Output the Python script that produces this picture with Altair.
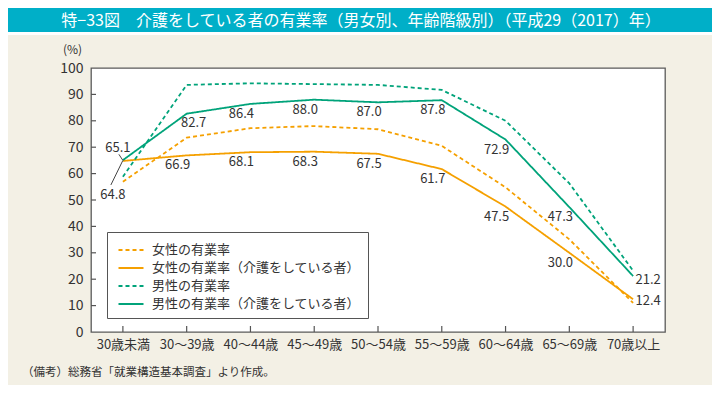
import altair as alt
import pandas as pd

FONT = "Noto Sans CJK JP"

categories = ["30歳未満", "30～39歳", "40～44歳", "45～49歳", "50～54歳",
              "55～59歳", "60～64歳", "65～69歳", "70歳以上"]

series_names = ["女性の有業率", "女性の有業率（介護をしている者）",
                "男性の有業率", "男性の有業率（介護をしている者）"]

female_all = [56.9, 73.6, 77.2, 78.0, 76.8, 70.5, 54.8, 35.1, 11.0]
female_care = [64.8, 66.9, 68.1, 68.3, 67.5, 61.7, 47.5, 30.0, 12.4]
male_all = [58.8, 93.6, 94.2, 93.9, 93.6, 91.7, 80.0, 56.3, 23.2]
male_care = [65.1, 82.7, 86.4, 88.0, 87.0, 87.8, 72.9, 47.3, 21.2]

y_ticks = [0, 10, 20, 30, 40, 50, 60, 70, 80, 90, 100]

# label offsets (pixels) for the value labels
male_care_dx = [-5, 7, -9, -9, -9, -9, -9, -9, 15]
male_care_dy = [-12, 9, 10, 10, 10, 10, 10, 10, 4]
female_care_dx = [-10, -9, -9, -9, -9, -9, -9, -9, 15]
female_care_dy = [34, 10, 10, 10, 10, 10, 10, 10, 2]

title_text = "特−33図　介護をしている者の有業率（男女別、年齢階級別）（平成29（2017）年）"
footer_text = "（備考）総務省「就業構造基本調査」より作成。"

colors = ["#F5A000", "#F5A000", "#00A37A", "#00A37A"]
dashes = [[4, 3], [1, 0], [4, 3], [1, 0]]

# ---- tables
rows = []
for name, vals in zip(series_names, [female_all, female_care, male_all, male_care]):
    for c, v in zip(categories, vals):
        rows.append({"cat": c, "value": v, "series": name})
lines_df = pd.DataFrame(rows)

lab_rows = []
for vals, dxs, dys in [(male_care, male_care_dx, male_care_dy),
                       (female_care, female_care_dx, female_care_dy)]:
    for c, v, dx, dy in zip(categories, vals, dxs, dys):
        lab_rows.append({"cat": c, "value": v, "txt": f"{v:.1f}", "dx": dx, "dy": dy})
labels_df = pd.DataFrame(lab_rows)

W, H = 574, 264

x_enc = alt.X("cat:N", sort=categories,
              scale=alt.Scale(type="point", padding=0.5, domain=categories),
              axis=alt.Axis(title=None, labelAngle=0, domain=False, ticks=False,
                            labelPadding=6, labelFontSize=13, labelFont=FONT,
                            labelColor="#333"))
y_enc = alt.Y("value:Q", scale=alt.Scale(domain=[0, 100], nice=False),
              axis=alt.Axis(values=y_ticks, title="(%)", titleAngle=0, titleX=-19, titleY=-19,
                            titleAlign="center", titleBaseline="middle", titleFontSize=12,
                            titleFontWeight="normal", titleFont=FONT, titleColor="#333",
                            domain=False, ticks=False, grid=False, labelPadding=8,
                            labelFontSize=14, labelFont=FONT, labelColor="#333"))

one = pd.DataFrame({"a": [0]})

banner = alt.Chart(one).mark_rect(color="#00AFC8").encode(
    x=alt.value(-83), x2=alt.value(621), y=alt.value(-60), y2=alt.value(-36))
stripe = alt.Chart(one).mark_rect(color="white").encode(
    x=alt.value(-83), x2=alt.value(621), y=alt.value(-36), y2=alt.value(-33))
title = alt.Chart(one).mark_text(text=title_text, color="white", fontSize=16, font=FONT,
                                 align="center", baseline="middle").encode(
    x=alt.value(270), y=alt.value(-47))
footer = alt.Chart(one).mark_text(text=footer_text, color="#333", fontSize=11.5, font=FONT,
                                  align="left", baseline="middle").encode(
    x=alt.value(-69), y=alt.value(305))

legend = alt.Legend(orient="none", legendX=16, legendY=164, title=None,
                    fillColor="white", strokeColor="#555", padding=7,
                    symbolType="M-1.25,0H1.25", symbolSize=400, symbolStrokeWidth=2,
                    symbolOffset=6, labelOffset=10, labelFontSize=13, labelFont=FONT,
                    labelColor="#333", rowPadding=0, labelLimit=400)

lines = alt.Chart(lines_df).mark_line(strokeWidth=1.8).encode(
    x=x_enc, y=y_enc,
    color=alt.Color("series:N", sort=series_names,
                    scale=alt.Scale(domain=series_names, range=colors), legend=legend),
    strokeDash=alt.StrokeDash("series:N", sort=series_names,
                              scale=alt.Scale(domain=series_names, range=dashes), legend=legend),
    detail="series:N",
)

ytick_df = pd.DataFrame({"value": y_ticks[1:-1]})
yticks = alt.Chart(ytick_df).mark_rule(color="#555", strokeWidth=1.2).encode(
    y=y_enc, x=alt.value(0), x2=alt.value(5))
xtick_df = pd.DataFrame({"cat": categories})
xticks = alt.Chart(xtick_df).mark_rule(color="#555", strokeWidth=1.2).encode(
    x=x_enc, y=alt.value(H), y2=alt.value(H - 6))

leader_df = pd.DataFrame({"cat": [categories[0], categories[0]],
                          "value": [65.0, 65.0], "value2": [67.3, 55.7]})
leader1 = alt.Chart(leader_df.iloc[[0]]).mark_rule(color="#444", strokeWidth=1, x2Offset=-4).encode(
    x=x_enc, x2="cat:N", y=y_enc, y2="value2:Q")
leader2 = alt.Chart(leader_df.iloc[[1]]).mark_rule(color="#444", strokeWidth=1, x2Offset=-12).encode(
    x=x_enc, x2="cat:N", y=y_enc, y2="value2:Q")

text_layers = []
for (dx, dy), g in labels_df.groupby(["dx", "dy"]):
    text_layers.append(
        alt.Chart(g).mark_text(fontSize=13, font=FONT, color="#333", align="center",
                               baseline="middle", dx=int(dx), dy=int(dy)).encode(
            x=x_enc, y=y_enc, text="txt:N"))

chart = alt.layer(banner, stripe, title, footer, lines, yticks, xticks, leader1, leader2,
                  *text_layers).properties(
    width=W, height=H,
    autosize=alt.AutoSizeParams(type="none"),
    padding={"left": 83, "top": 60, "right": 47, "bottom": 53},
    background="#F3F0E5",
).configure_view(fill="white", stroke="#5a5a5a", strokeWidth=1.3)

chart.save("out.html", embed_options={"renderer": "svg", "actions": False})
